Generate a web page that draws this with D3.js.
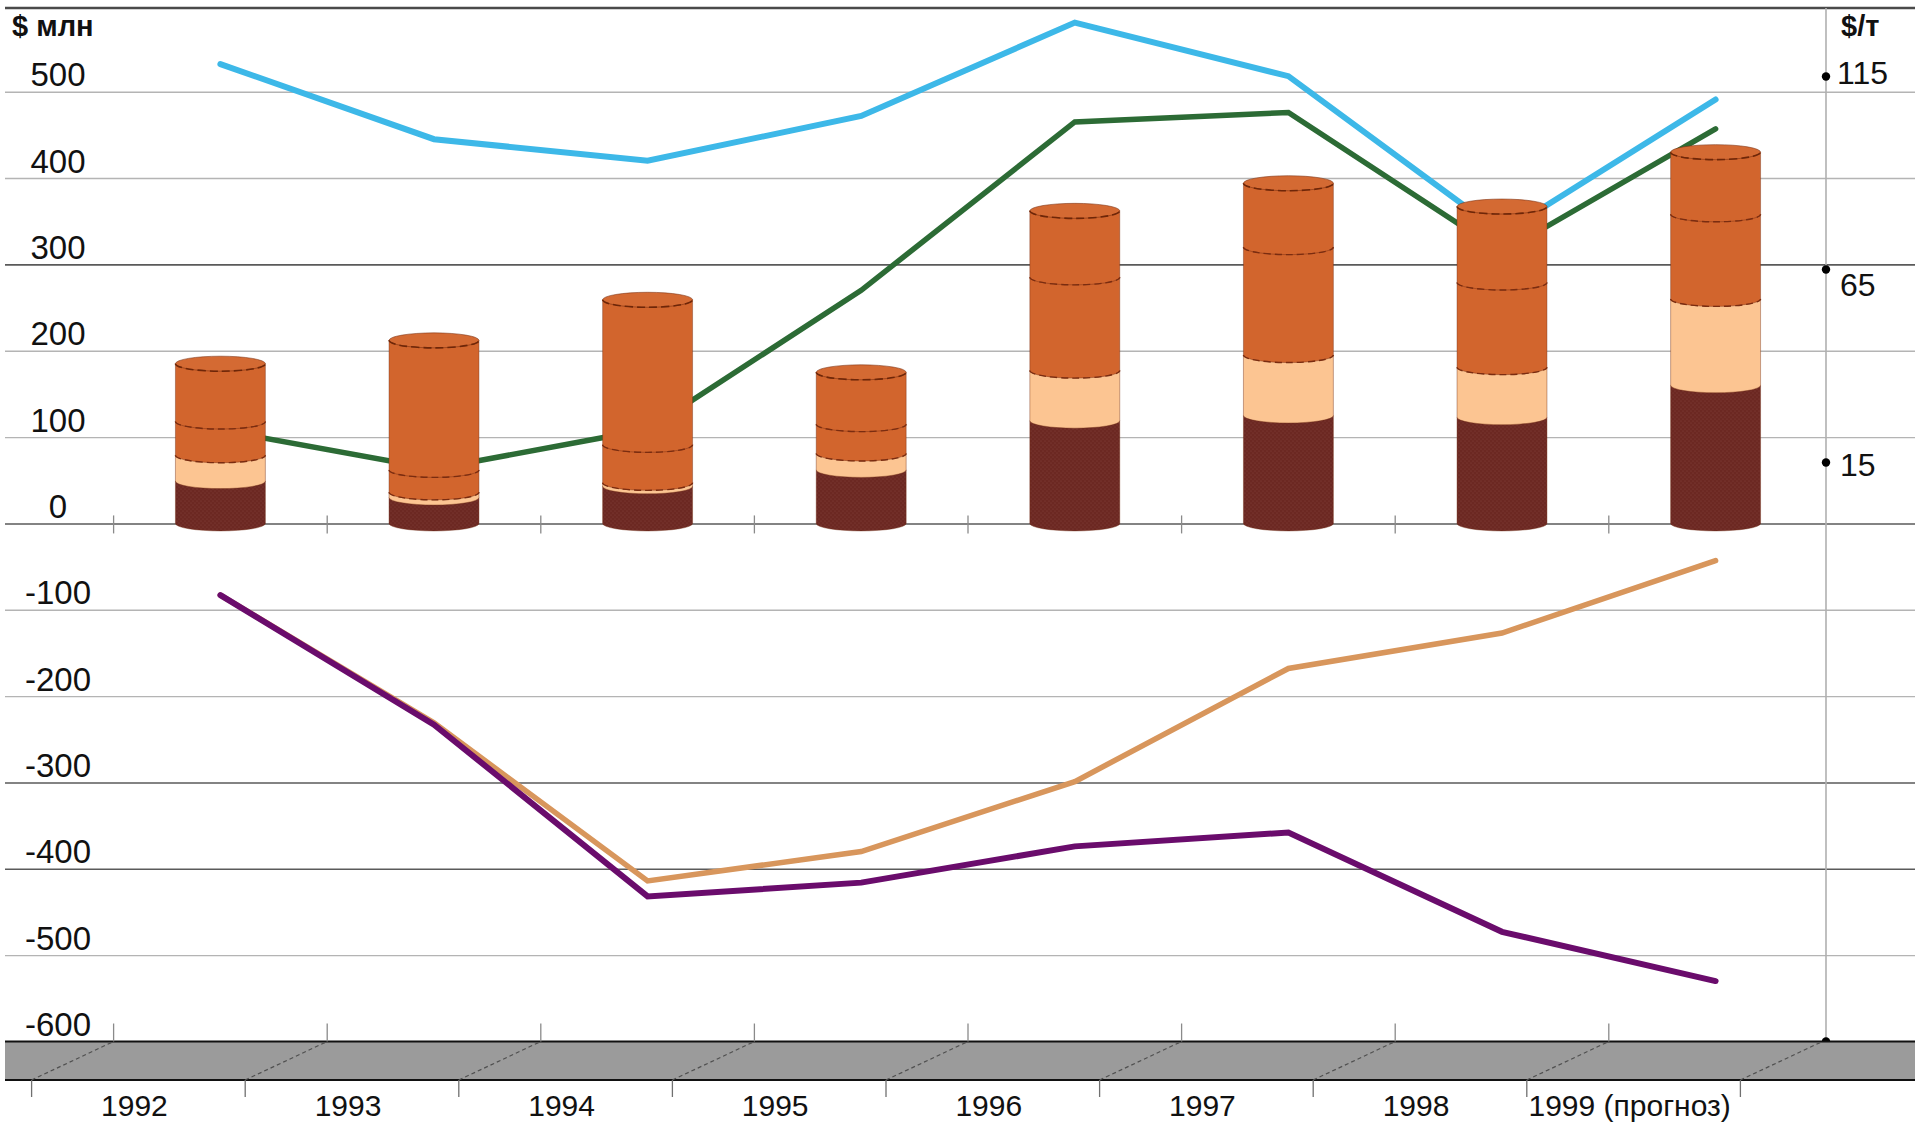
<!DOCTYPE html>
<html>
<head>
<meta charset="utf-8">
<script src="https://cdn.jsdelivr.net/npm/d3@7"></script>
<style>
  html, body { margin: 0; padding: 0; background: #fff; }
  svg { display: block; font-family: "Liberation Sans", Arial, sans-serif; }
</style>
</head>
<body>
<svg id="chart" width="1915" height="1126"></svg>
<script>
// ---- data ----
const years = ["1992", "1993", "1994", "1995", "1996", "1997", "1998", "1999 (прогноз)"];

// stacked cylinder components, $ млн (bottom to top)
const segDark   = [49, 30, 43, 62, 119, 125, 123, 160];
const segPeach  = [30, 6, 4, 19, 58, 70, 58, 100];
const segOrange = [39, 26, 44, 34, 108, 125, 98, 98];
const segTop    = [67, 150, 168, 60, 77, 74, 88, 72];

// line series, $ млн
const lineBlue   = [532, 445, 420, 472, 580, 518, 336, 491];
const lineGreen  = [108, 63, 109, 270, 465, 476, 314, 457];
const lineTan    = [-83, -231, -414, -380, -299, -168, -127, -43];
const linePurple = [-83, -233, -432, -416, -374, -358, -473, -530];

const leftTicks  = [500, 400, 300, 200, 100, 0, -100, -200, -300, -400, -500, -600];
const rightTicks = [115, 65, 15];

// ---- layout ----
const W = 1915, H = 1126;
const svg = d3.select("#chart");

const yL = d3.scaleLinear().domain([-600, 500]).range([1041.5, 91.7]);
const yR = d3.scaleLinear().domain([15, 115]).range([462, 76]);
const x = d3.scaleBand().domain(years).range([113.6, 1822.4])
  .paddingInner(0.579).paddingOuter(0.2895);
const bw = x.bandwidth();
const cx = d => x(d) + bw / 2;
const step = x.step();
const depthX = -82, depthY = 38.5;   // offset from back wall to front edge of floor
const rightAxisX = 1826;
const floorTop = yL(-600), floorBot = floorTop + depthY;
const ry = 7.5;

// patterns
const defs = svg.append("defs");
const pat = defs.append("pattern").attr("id", "darkDots")
  .attr("patternUnits", "userSpaceOnUse").attr("width", 4).attr("height", 4);
pat.append("rect").attr("width", 4).attr("height", 4).attr("fill", "#6c2822");
pat.append("circle").attr("cx", 1).attr("cy", 1).attr("r", 0.6).attr("fill", "#84423a");
pat.append("circle").attr("cx", 3).attr("cy", 3).attr("r", 0.6).attr("fill", "#84423a");

// top frame line
svg.append("line").attr("x1", 5).attr("x2", W).attr("y1", 8).attr("y2", 8)
  .attr("stroke", "#4a4a4a").attr("stroke-width", 2.5);

// ---- left axis with gridlines ----
const darkGrid = new Set([300, 0, -300, -400]);
const gL = svg.append("g").attr("transform", "translate(5,0)")
  .call(d3.axisRight(yL).tickValues(leftTicks).tickSize(W - 5).tickFormat(d => String(d)));
gL.select(".domain").remove();
gL.selectAll(".tick line")
  .attr("stroke", d => darkGrid.has(d) ? "#5a5a5a" : "#b4b4b4")
  .attr("stroke-width", d => darkGrid.has(d) ? 1.6 : 1.4);
gL.selectAll(".tick text")
  .attr("x", 53).attr("y", -6).attr("dy", 0)
  .attr("text-anchor", "middle")
  .attr("font-size", 33).attr("fill", "#111")
  .attr("font-family", "\"Liberation Sans\", Arial, sans-serif");

svg.append("text").attr("x", 12).attr("y", 36)
  .attr("font-size", 29).attr("font-weight", "bold").attr("fill", "#111")
  .text("$ млн");

// ticks crossing the zero line at the category boundaries
svg.append("g").selectAll("line").data(d3.range(8)).join("line")
  .attr("x1", i => 113.6 + i * step).attr("x2", i => 113.6 + i * step)
  .attr("y1", yL(0) - 8).attr("y2", yL(0) + 10)
  .attr("stroke", "#8a8a8a").attr("stroke-width", 1.3);

// ---- right axis ----
svg.append("line").attr("x1", rightAxisX).attr("x2", rightAxisX)
  .attr("y1", 8).attr("y2", floorTop)
  .attr("stroke", "#b0b0b0").attr("stroke-width", 1.6);

const labelShift = {115: 7, 65: 26, 15: 13};
const gR = svg.append("g").attr("transform", `translate(${rightAxisX},0)`)
  .call(d3.axisRight(yR).tickValues(rightTicks).tickSize(0).tickFormat(d => String(d)));
gR.select(".domain").remove();
gR.selectAll(".tick").append("circle").attr("r", 4.2).attr("fill", "#000");
gR.selectAll(".tick text")
  .attr("x", d => d === 115 ? 11 : 14).attr("y", d => labelShift[d]).attr("dy", 0)
  .attr("text-anchor", "start")
  .attr("font-size", 32).attr("fill", "#111")
  .attr("font-family", "\"Liberation Sans\", Arial, sans-serif");
svg.append("circle").attr("cx", rightAxisX).attr("cy", floorTop).attr("r", 4.2).attr("fill", "#000");

svg.append("text").attr("x", 1841).attr("y", 36)
  .attr("font-size", 29).attr("font-weight", "bold").attr("fill", "#111")
  .text("$/т");

// ---- floor band ----
svg.append("rect").attr("x", 5).attr("y", floorTop).attr("width", W - 5).attr("height", depthY)
  .attr("fill", "#9b9b9b");
svg.append("line").attr("x1", 5).attr("x2", W).attr("y1", floorTop).attr("y2", floorTop)
  .attr("stroke", "#111").attr("stroke-width", 2);
svg.append("line").attr("x1", 5).attr("x2", W).attr("y1", floorBot).attr("y2", floorBot)
  .attr("stroke", "#111").attr("stroke-width", 2);

const boundaries = d3.range(9).map(i => 113.6 + i * step);
svg.append("g").selectAll("line").data(boundaries).join("line")
  .attr("x1", b => b + depthX).attr("y1", floorBot)
  .attr("x2", b => b).attr("y2", floorTop)
  .attr("stroke", "#505050").attr("stroke-width", 1.2).attr("stroke-dasharray", "4,3");
svg.append("g").selectAll("line").data(boundaries.slice(0, 8)).join("line")
  .attr("x1", b => b).attr("x2", b => b).attr("y1", floorTop - 18).attr("y2", floorTop)
  .attr("stroke", "#8a8a8a").attr("stroke-width", 1.3);
svg.append("g").selectAll("line").data(boundaries).join("line")
  .attr("x1", b => b + depthX).attr("x2", b => b + depthX).attr("y1", floorBot).attr("y2", floorBot + 17)
  .attr("stroke", "#707070").attr("stroke-width", 1.3);

// category labels along the front edge
svg.append("g").selectAll("text").data(years).join("text")
  .attr("x", d => cx(d) + depthX - 4).attr("y", 1116)
  .attr("text-anchor", "middle").attr("font-size", 30).attr("fill", "#111")
  .text(d => d);

// ---- lines (drawn behind the cylinders) ----
const line = d3.line().x(d => cx(d.year)).y(d => yL(d.v));
const series = [
  {vals: lineTan, color: "#d8965c", w: 5.5},
  {vals: linePurple, color: "#6a0c6c", w: 6},
  {vals: lineGreen, color: "#2c6b35", w: 5.5},
  {vals: lineBlue, color: "#3db8e8", w: 6}
];
svg.append("g").selectAll("path").data(series).join("path")
  .attr("d", s => line(s.vals.map((v, i) => ({year: years[i], v}))))
  .attr("fill", "none").attr("stroke", s => s.color).attr("stroke-width", s => s.w)
  .attr("stroke-linejoin", "miter").attr("stroke-linecap", "round");

// ---- cylinders ----
const layers = [
  {vals: segDark, fill: "url(#darkDots)", dashed: false},
  {vals: segPeach, fill: "#fcc592", dashed: false},
  {vals: segOrange, fill: "#d2652d", dashed: true},
  {vals: segTop, fill: "#d2652d", dashed: true}
];
const stackData = d3.stack().keys(d3.range(layers.length))
  .value((row, k) => layers[k].vals[row])(d3.range(years.length));

const rx = bw / 2;
const gBars = svg.append("g");
years.forEach((yr, i) => {
  const c = cx(yr);
  const g = gBars.append("g");
  stackData.forEach((layer, k) => {
    const y0 = yL(layer[i][0]), y1 = yL(layer[i][1]);
    g.append("path")
      .attr("d", `M${c - rx},${y1} L${c - rx},${y0} A${rx},${ry} 0 0 0 ${c + rx},${y0} L${c + rx},${y1} Z`)
      .attr("fill", layers[k].fill)
      .attr("stroke", "rgba(110,40,15,0.4)").attr("stroke-width", 1);
    if (layers[k].dashed) {
      g.append("path")
        .attr("d", `M${c - rx},${y0} A${rx},${ry} 0 0 0 ${c + rx},${y0}`)
        .attr("fill", "none").attr("stroke", "#7a2c10")
        .attr("stroke-width", 1.4).attr("stroke-dasharray", "7,4");
    }
  });
  const top = yL(stackData[stackData.length - 1][i][1]);
  g.append("ellipse").attr("cx", c).attr("cy", top).attr("rx", rx).attr("ry", ry)
    .attr("fill", "#d46a33").attr("stroke", "rgba(120,45,15,0.55)")
    .attr("stroke-width", 1);
  g.append("path")
    .attr("d", `M${c - rx},${top} A${rx},${ry} 0 0 0 ${c + rx},${top}`)
    .attr("fill", "none").attr("stroke", "#6e2608")
    .attr("stroke-width", 1.6).attr("stroke-dasharray", "8,4");
});
</script>
</body>
</html>
